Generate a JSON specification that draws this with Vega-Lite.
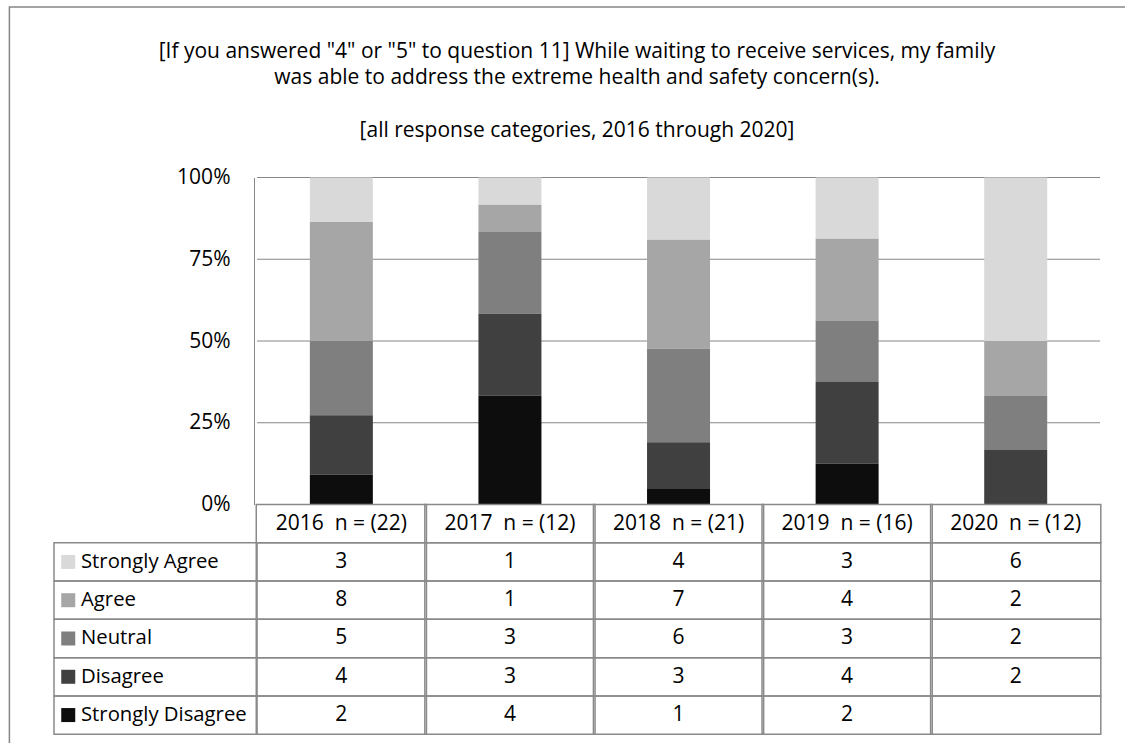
{
  "$schema": "https://vega.github.io/schema/vega-lite/v6.json",
  "width": 1056,
  "height": 556.7,
  "autosize": {"type": "none"},
  "padding": {"left": 49, "top": 177.5, "right": 20, "bottom": 8.8},
  "background": "white",
  "config": {"view": {"stroke": null}, "font": "Open Sans", "text": {"font": "Open Sans"}},
  "title": {
    "text": ["[If you answered \"4\" or \"5\" to question 11] While waiting to receive services, my family", "was able to address the extreme health and safety concern(s)."],
    "subtitle": "[all response categories, 2016 through 2020]",
    "anchor": "middle",
    "font": "Open Sans",
    "fontSize": 21,
    "fontWeight": "normal",
    "color": "#000000",
    "lineHeight": 25.5,
    "subtitleFont": "Open Sans",
    "subtitleFontSize": 21,
    "subtitleColor": "#000000",
    "subtitlePadding": 32.5,
    "offset": -135
  },
  "datasets": {
    "counts": [
      {"year": 2016, "response": "Strongly Agree", "count": 3},
      {"year": 2016, "response": "Agree", "count": 8},
      {"year": 2016, "response": "Neutral", "count": 5},
      {"year": 2016, "response": "Disagree", "count": 4},
      {"year": 2016, "response": "Strongly Disagree", "count": 2},
      {"year": 2017, "response": "Strongly Agree", "count": 1},
      {"year": 2017, "response": "Agree", "count": 1},
      {"year": 2017, "response": "Neutral", "count": 3},
      {"year": 2017, "response": "Disagree", "count": 3},
      {"year": 2017, "response": "Strongly Disagree", "count": 4},
      {"year": 2018, "response": "Strongly Agree", "count": 4},
      {"year": 2018, "response": "Agree", "count": 7},
      {"year": 2018, "response": "Neutral", "count": 6},
      {"year": 2018, "response": "Disagree", "count": 3},
      {"year": 2018, "response": "Strongly Disagree", "count": 1},
      {"year": 2019, "response": "Strongly Agree", "count": 3},
      {"year": 2019, "response": "Agree", "count": 4},
      {"year": 2019, "response": "Neutral", "count": 3},
      {"year": 2019, "response": "Disagree", "count": 4},
      {"year": 2019, "response": "Strongly Disagree", "count": 2},
      {"year": 2020, "response": "Strongly Agree", "count": 6},
      {"year": 2020, "response": "Agree", "count": 2},
      {"year": 2020, "response": "Neutral", "count": 2},
      {"year": 2020, "response": "Disagree", "count": 2},
      {"year": 2020, "response": "Strongly Disagree", "count": 0}
    ],
    "years": [
      {"year": 2016, "response": "n", "label": "2016\u00a0 n = (22)"},
      {"year": 2017, "response": "n", "label": "2017\u00a0 n = (12)"},
      {"year": 2018, "response": "n", "label": "2018\u00a0 n = (21)"},
      {"year": 2019, "response": "n", "label": "2019\u00a0 n = (16)"},
      {"year": 2020, "response": "n", "label": "2020\u00a0 n = (12)"}
    ],
    "responses": [
      {"response": "Strongly Agree"},
      {"response": "Agree"},
      {"response": "Neutral"},
      {"response": "Disagree"},
      {"response": "Strongly Disagree"}
    ],
    "grid": [{"pct": 0}, {"pct": 0.25}, {"pct": 0.5}, {"pct": 0.75}, {"pct": 1}]
  },
  "layer": [
    {
      "layer": [
        {
          "data": {"name": "grid"},
          "mark": {"type": "rule", "color": "#868686", "strokeWidth": 1},
          "encoding": {
            "x": {"datum": 2015.5, "type": "quantitative", "scale": {"domain": [2014.2955, 2020.5], "nice": false, "zero": false}, "axis": null},
            "x2": {"datum": 2020.5},
            "y": {
              "field": "pct", "type": "quantitative",
              "scale": {"domain": [0, 1], "range": [327, 0], "nice": false, "zero": false},
              "axis": {"title": null, "values": [0, 0.25, 0.5, 0.75, 1], "format": ".0%", "offset": -205, "grid": false, "ticks": false, "domain": true, "domainColor": "#868686", "domainWidth": 1, "labelPadding": 24, "labelFont": "Open Sans", "labelFontSize": 21, "labelColor": "#000000"}
            }
          }
        },
        {
          "data": {"name": "counts"},
          "transform": [{"calculate": "indexof(['Strongly Disagree', 'Disagree', 'Neutral', 'Agree', 'Strongly Agree'], datum.response)", "as": "stackOrder"}],
          "mark": {"type": "bar", "width": 63, "orient": "vertical"},
          "encoding": {
            "x": {"field": "year", "type": "quantitative", "axis": null},
            "y": {"field": "count", "type": "quantitative", "stack": "normalize"},
            "order": {"field": "stackOrder", "type": "quantitative", "sort": "ascending"},
            "color": {
              "field": "response", "type": "nominal",
              "scale": {"domain": ["Strongly Disagree", "Disagree", "Neutral", "Agree", "Strongly Agree"], "range": ["#0d0d0d", "#404040", "#7f7f7f", "#a6a6a6", "#d9d9d9"]},
              "legend": null
            }
          }
        },
        {
          "data": {"values": [{}]},
          "mark": {"type": "rect", "fill": null, "stroke": "#868686", "strokeWidth": 1.5},
          "encoding": {
            "x": {"datum": 2014.031, "type": "quantitative"},
            "x2": {"datum": 2022},
            "y": {"datum": 1.5214, "type": "quantitative"},
            "y2": {"datum": -1.5}
          }
        }
      ]
    },
    {
      "encoding": {
        "y": {"field": "response", "type": "nominal", "scale": {"domain": ["n", "Strongly Agree", "Agree", "Neutral", "Disagree", "Strongly Disagree"], "range": [327, 556.7], "paddingInner": 0, "paddingOuter": 0}, "axis": null}
      },
      "layer": [
        {
          "data": {"name": "counts"},
          "mark": {"type": "rect", "width": 170.2, "fill": null, "stroke": "#8a8a8a", "strokeWidth": 1.5},
          "encoding": {"x": {"field": "year", "type": "quantitative"}}
        },
        {
          "data": {"name": "years"},
          "mark": {"type": "rect", "width": 170.2, "fill": null, "stroke": "#8a8a8a", "strokeWidth": 1.5},
          "encoding": {"x": {"field": "year", "type": "quantitative"}}
        },
        {
          "data": {"name": "responses"},
          "mark": {"type": "rect", "fill": null, "stroke": "#8a8a8a", "strokeWidth": 1.5},
          "encoding": {"x": {"datum": 2014.2955, "type": "quantitative"}, "x2": {"datum": 2015.5}}
        },
        {
          "data": {"name": "years"},
          "mark": {"type": "text", "font": "Open Sans", "fontSize": 21, "color": "#000000"},
          "encoding": {"x": {"field": "year", "type": "quantitative"}, "text": {"field": "label"}}
        },
        {
          "data": {"name": "counts"},
          "transform": [{"filter": "datum.count > 0"}],
          "mark": {"type": "text", "font": "Open Sans", "fontSize": 21, "color": "#000000"},
          "encoding": {"x": {"field": "year", "type": "quantitative"}, "text": {"field": "count", "type": "quantitative"}}
        },
        {
          "data": {"name": "responses"},
          "mark": {"type": "square", "size": 196, "filled": true, "opacity": 1},
          "encoding": {"x": {"datum": 2014.38, "type": "quantitative"}, "color": {"field": "response", "type": "nominal", "legend": null}}
        },
        {
          "data": {"name": "responses"},
          "mark": {"type": "text", "font": "Open Sans", "fontSize": 20.3, "color": "#000000", "align": "left", "dx": 27},
          "encoding": {"x": {"datum": 2014.2955, "type": "quantitative"}, "text": {"field": "response"}}
        }
      ]
    }
  ],
  "resolve": {"scale": {"y": "independent"}, "axis": {"y": "independent"}}
}
